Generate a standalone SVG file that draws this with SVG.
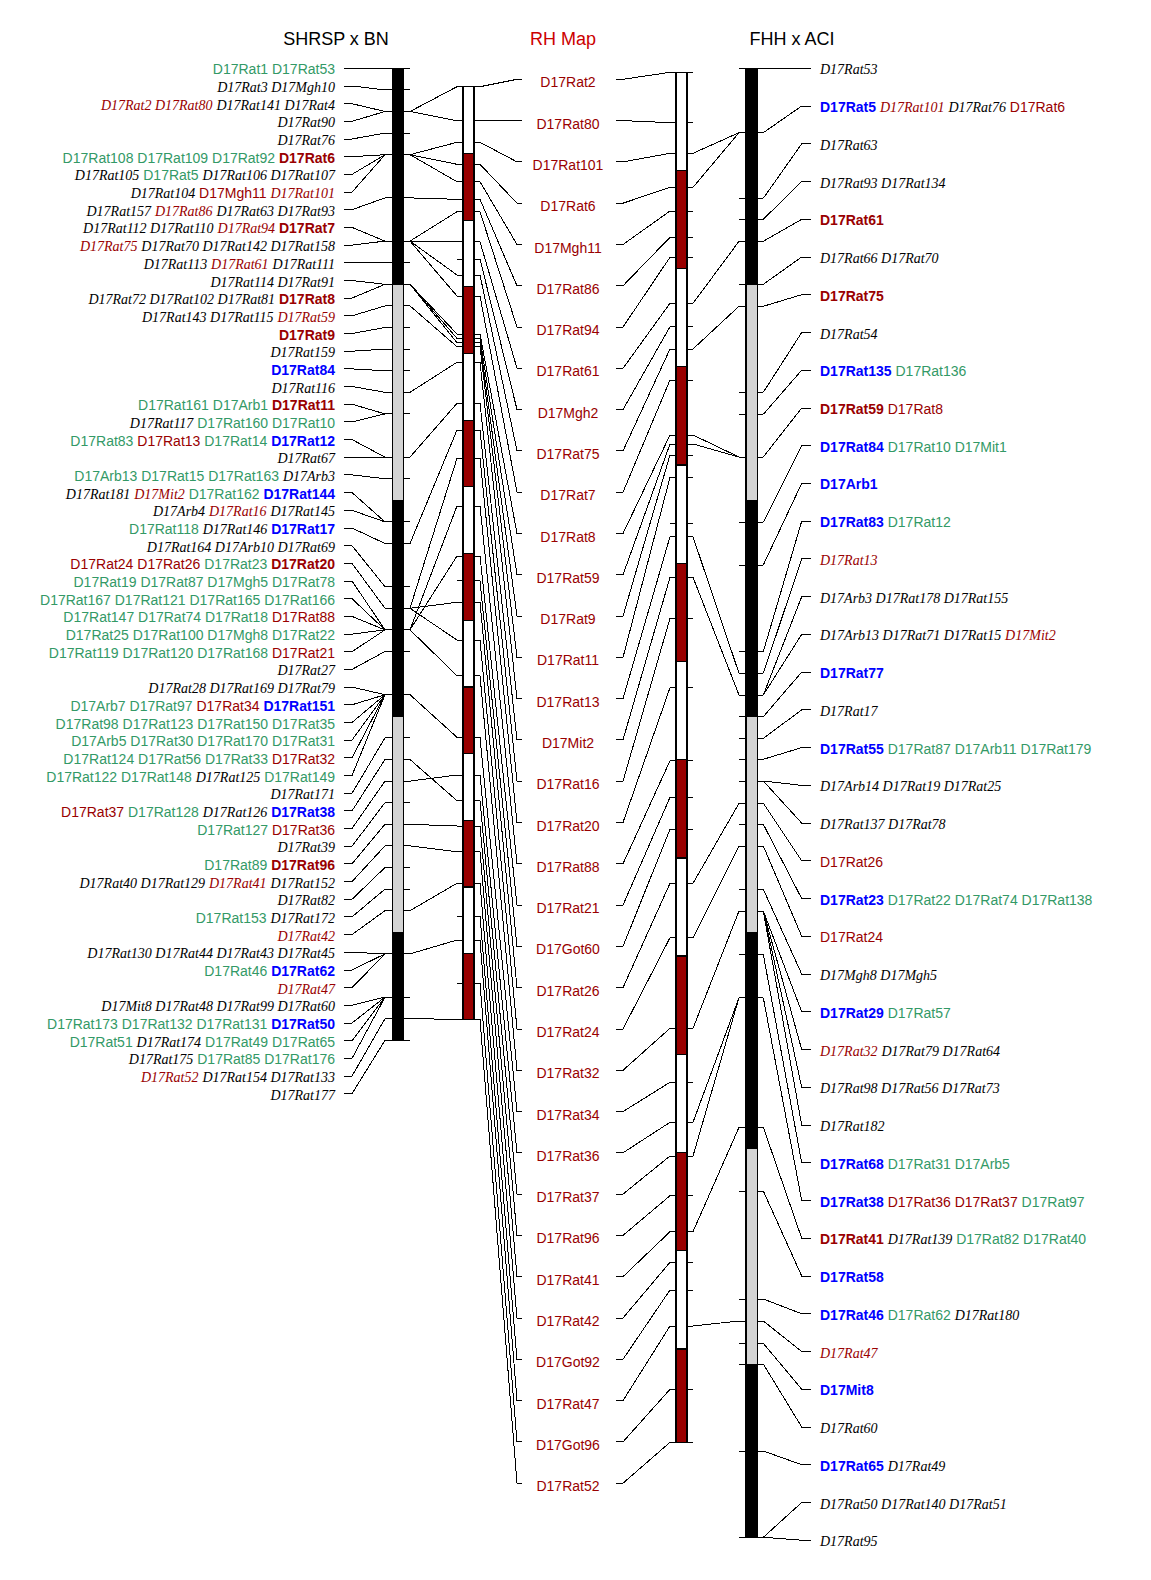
<svg xmlns="http://www.w3.org/2000/svg" width="1151" height="1580" viewBox="0 0 1151 1580">
<style>
text{font-family:"Liberation Sans",Arial,sans-serif;font-size:14px;fill:#000}
.t{font-size:18px}
.tr{font-size:18px;fill:#cc0000}
.g{fill:#339966}
.r{fill:#990000}
.i{font-family:"Liberation Serif","Times New Roman",serif;font-style:italic}
.ri{font-family:"Liberation Serif","Times New Roman",serif;font-style:italic;fill:#990000}
.rb{font-weight:bold;fill:#990000}
.bb{font-weight:bold;fill:#0000ff}
.ln{fill:none;stroke:#000;stroke-width:1;shape-rendering:crispEdges}
.bar{stroke:#000;stroke-width:1.2;shape-rendering:crispEdges}
.bk{fill:#000}.gy{fill:#d3d3d3}.wh{fill:#fff}.rd{fill:#990000}
</style>
<rect width="1151" height="1580" fill="#fff"/>
<g id="titles">
<text class="t" x="336" y="45" text-anchor="middle">SHRSP x BN</text>
<text class="tr" x="563" y="45" text-anchor="middle">RH Map</text>
<text class="t" x="792" y="45" text-anchor="middle">FHH x ACI</text>
</g>
<g id="connectors" class="ln">
<polyline points="344,68.3 410,68.3"/>
<polyline points="344,86 352,86 385,89.9"/>
<polyline points="344,103.7 352,103.7 385,111.5"/>
<polyline points="344,121.3 352,121.3 385,111.5"/>
<polyline points="344,139 352,139 385,133.1"/>
<polyline points="344,156.7 352,156.7 385,154.7"/>
<polyline points="344,174.4 352,174.4 385,154.7"/>
<polyline points="344,192.1 352,192.1 385,154.7"/>
<polyline points="344,209.7 352,209.7 385,197.9"/>
<polyline points="344,227.4 352,227.4 385,241.1"/>
<polyline points="344,245.1 352,245.1 385,241.1"/>
<polyline points="344,262.8 352,262.8 385,262.7"/>
<polyline points="344,280.5 352,280.5 385,284.3"/>
<polyline points="344,298.1 352,298.1 385,284.3"/>
<polyline points="344,315.8 352,315.8 385,305.9"/>
<polyline points="344,333.5 352,333.5 385,327.5"/>
<polyline points="344,351.2 352,351.2 385,349.1"/>
<polyline points="344,368.9 352,368.9 385,370.7"/>
<polyline points="344,386.5 352,386.5 385,392.3"/>
<polyline points="344,404.2 352,404.2 385,413.9"/>
<polyline points="344,421.9 352,421.9 385,413.9"/>
<polyline points="344,439.6 352,439.6 385,457.1"/>
<polyline points="344,457.3 352,457.3 385,457.1"/>
<polyline points="344,474.9 352,474.9 385,478.7"/>
<polyline points="344,492.6 352,492.6 385,521.9"/>
<polyline points="344,510.3 352,510.3 385,521.9"/>
<polyline points="344,528 352,528 385,543.5"/>
<polyline points="344,545.7 352,545.7 385,586.7"/>
<polyline points="344,563.3 352,563.3 385,608.3"/>
<polyline points="344,581 352,581 385,629.9"/>
<polyline points="344,598.7 352,598.7 385,629.9"/>
<polyline points="344,616.4 352,616.4 385,629.9"/>
<polyline points="344,634.1 352,634.1 385,629.9"/>
<polyline points="344,651.7 352,651.7 385,629.9"/>
<polyline points="344,669.4 352,669.4 385,651.5"/>
<polyline points="344,687.1 352,687.1 385,694.7"/>
<polyline points="344,704.8 352,704.8 385,694.7"/>
<polyline points="344,722.5 352,722.5 385,694.7"/>
<polyline points="344,740.1 352,740.1 385,694.7"/>
<polyline points="344,757.8 352,757.8 385,694.7"/>
<polyline points="344,775.5 352,775.5 385,694.7"/>
<polyline points="344,793.2 352,793.2 385,737.9"/>
<polyline points="344,810.9 352,810.9 385,759.5"/>
<polyline points="344,828.5 352,828.5 385,781.1"/>
<polyline points="344,846.2 352,846.2 385,802.7"/>
<polyline points="344,863.9 352,863.9 385,824.3"/>
<polyline points="344,881.6 352,881.6 385,845.9"/>
<polyline points="344,899.3 352,899.3 385,867.5"/>
<polyline points="344,916.9 352,916.9 385,889.1"/>
<polyline points="344,934.6 352,934.6 385,910.7"/>
<polyline points="344,952.3 352,952.3 385,953.9"/>
<polyline points="344,970 352,970 385,953.9"/>
<polyline points="344,987.7 352,987.7 385,953.9"/>
<polyline points="344,1005.3 352,1005.3 385,997.1"/>
<polyline points="344,1023 352,1023 385,997.1"/>
<polyline points="344,1040.7 352,1040.7 385,997.1"/>
<polyline points="344,1058.4 352,1058.4 385,997.1"/>
<polyline points="344,1076.1 352,1076.1 385,1018.7"/>
<polyline points="344,1093.7 352,1093.7 385,1040.3"/>
<path d="M385 89.9H392.5M403.5 89.9H410M385 111.5H392.5M403.5 111.5H410M385 133.1H392.5M403.5 133.1H410M385 154.7H392.5M403.5 154.7H410M385 197.9H392.5M403.5 197.9H410M385 241.1H392.5M403.5 241.1H410M385 262.7H392.5M403.5 262.7H410M385 284.3H392.5M403.5 284.3H410M385 305.9H392.5M403.5 305.9H410M385 327.5H392.5M403.5 327.5H410M385 349.1H392.5M403.5 349.1H410M385 370.7H392.5M403.5 370.7H410M385 392.3H392.5M403.5 392.3H410M385 413.9H392.5M403.5 413.9H410M385 457.1H392.5M403.5 457.1H410M385 478.7H392.5M403.5 478.7H410M385 521.9H392.5M403.5 521.9H410M385 543.5H392.5M403.5 543.5H410M385 586.7H392.5M403.5 586.7H410M385 608.3H392.5M403.5 608.3H410M385 629.9H392.5M403.5 629.9H410M385 651.5H392.5M403.5 651.5H410M385 694.7H392.5M403.5 694.7H410M385 737.9H392.5M403.5 737.9H410M385 759.5H392.5M403.5 759.5H410M385 781.1H392.5M403.5 781.1H410M385 802.7H392.5M403.5 802.7H410M385 824.3H392.5M403.5 824.3H410M385 845.9H392.5M403.5 845.9H410M385 867.5H392.5M403.5 867.5H410M385 889.1H392.5M403.5 889.1H410M385 910.7H392.5M403.5 910.7H410M385 953.9H392.5M403.5 953.9H410M385 997.1H392.5M403.5 997.1H410M385 1018.7H392.5M403.5 1018.7H410M385 1040.3H410"/>
<polyline points="410,111.5 457,86.7 463,86.7"/>
<polyline points="410,111.5 457,120.7 463,120.7"/>
<polyline points="410,154.7 457,142.3 463,142.3"/>
<polyline points="410,154.7 457,164.3 463,164.3"/>
<polyline points="410,154.7 457,181.7 463,181.7"/>
<polyline points="410,197.9 457,199.3 463,199.3"/>
<polyline points="410,241.1 457,211.7 463,211.7"/>
<polyline points="410,241.1 457,241.7 463,241.7"/>
<polyline points="410,241.1 457,275 463,275"/>
<polyline points="410,241.1 457,296 463,296"/>
<polyline points="410,284.3 457,334 463,334"/>
<polyline points="410,284.3 457,338.3 463,338.3"/>
<polyline points="410,284.3 457,342.7 463,342.7"/>
<polyline points="410,305.9 457,346.7 463,346.7"/>
<polyline points="410,392.3 457,362.3 463,362.3"/>
<polyline points="410,457.1 457,403.3 463,403.3"/>
<polyline points="410,543.5 457,430 463,430"/>
<polyline points="410,608.3 457,458.3 463,458.3"/>
<polyline points="410,629.9 457,506 463,506"/>
<polyline points="410,629.9 457,556 463,556"/>
<polyline points="410,608.3 457,602.3 463,602.3"/>
<polyline points="410,608.3 457,640 463,640"/>
<polyline points="410,629.9 457,675.7 463,675.7"/>
<polyline points="410,694.7 457,737.3 463,737.3"/>
<polyline points="410,781.1 457,775 463,775"/>
<polyline points="410,759.5 457,800.7 463,800.7"/>
<polyline points="410,824.3 457,826 463,826"/>
<polyline points="410,845.9 457,851.7 463,851.7"/>
<polyline points="410,910.7 457,883.3 463,883.3"/>
<polyline points="410,953.9 457,940 463,940"/>
<polyline points="410,1018.7 457,1019.3 463,1019.3"/>
<path d="M457 86.7H463M474 86.7H480M457 120.7H463M474 120.7H480M457 142.3H463M474 142.3H480M457 164.3H463M474 164.3H480M457 181.7H463M474 181.7H480M457 199.3H463M474 199.3H480M457 211.7H463M474 211.7H480M457 241.7H463M474 241.7H480M457 259H463M474 259H480M457 275H463M474 275H480M457 296H463M474 296H480M457 334H463M474 334H480M457 338.3H463M474 338.3H480M457 342.7H463M474 342.7H480M457 346.7H463M474 346.7H480M457 362.3H463M474 362.3H480M457 403.3H463M474 403.3H480M457 430H463M474 430H480M457 458.3H463M474 458.3H480M457 506H463M474 506H480M457 556H463M474 556H480M457 580.7H463M474 580.7H480M457 602.3H463M474 602.3H480M457 640H463M474 640H480M457 675.7H463M474 675.7H480M457 737.3H463M474 737.3H480M457 775H463M474 775H480M457 800.7H463M474 800.7H480M457 826H463M474 826H480M457 851.7H463M474 851.7H480M457 883.3H463M474 883.3H480M457 916H463M474 916H480M457 940H463M474 940H480M457 983.3H463M474 983.3H480M474 1019.3H480"/>
<polyline points="480,86.7 517,79.3 522,79.3"/>
<polyline points="480,120.7 517,120.6 522,120.6"/>
<polyline points="480,142.3 517,161.9 522,161.9"/>
<polyline points="480,164.3 517,203.2 522,203.2"/>
<polyline points="480,181.7 517,244.5 522,244.5"/>
<polyline points="480,199.3 517,285.8 522,285.8"/>
<polyline points="480,211.7 517,327 522,327"/>
<polyline points="480,241.7 517,368.3 522,368.3"/>
<polyline points="480,259 517,409.6 522,409.6"/>
<polyline points="480,275 517,450.9 522,450.9"/>
<polyline points="480,296 517,492.2 522,492.2"/>
<polyline points="480,334 517,533.5 522,533.5"/>
<polyline points="480,338.3 517,574.8 522,574.8"/>
<polyline points="480,342.7 517,616.1 522,616.1"/>
<polyline points="480,346.7 517,657.4 522,657.4"/>
<polyline points="480,362.3 517,698.7 522,698.7"/>
<polyline points="480,403.3 517,739.9 522,739.9"/>
<polyline points="480,430 517,781.2 522,781.2"/>
<polyline points="480,458.3 517,822.5 522,822.5"/>
<polyline points="480,506 517,863.8 522,863.8"/>
<polyline points="480,556 517,905.1 522,905.1"/>
<polyline points="480,580.7 517,946.4 522,946.4"/>
<polyline points="480,602.3 517,987.7 522,987.7"/>
<polyline points="480,640 517,1029 522,1029"/>
<polyline points="480,675.7 517,1070.3 522,1070.3"/>
<polyline points="480,737.3 517,1111.6 522,1111.6"/>
<polyline points="480,775 517,1152.8 522,1152.8"/>
<polyline points="480,800.7 517,1194.1 522,1194.1"/>
<polyline points="480,826 517,1235.4 522,1235.4"/>
<polyline points="480,851.7 517,1276.7 522,1276.7"/>
<polyline points="480,883.3 517,1318 522,1318"/>
<polyline points="480,916 517,1359.3 522,1359.3"/>
<polyline points="480,940 517,1400.6 522,1400.6"/>
<polyline points="480,983.3 517,1441.9 522,1441.9"/>
<polyline points="480,1019.3 517,1483.2 522,1483.2"/>
<polyline points="616,79.3 623,79.3 670,72.3 676,72.3"/>
<polyline points="616,120.6 623,120.6 670,122.7 676,122.7"/>
<polyline points="616,161.9 623,161.9 670,153.3 676,153.3"/>
<polyline points="616,203.2 623,203.2 670,187.3 676,187.3"/>
<polyline points="616,244.5 623,244.5 670,211 676,211"/>
<polyline points="616,285.8 623,285.8 670,237.3 676,237.3"/>
<polyline points="616,327 623,327 670,257.3 676,257.3"/>
<polyline points="616,368.3 623,368.3 670,303.3 676,303.3"/>
<polyline points="616,409.6 623,409.6 670,326.7 676,326.7"/>
<polyline points="616,450.9 623,450.9 670,349 676,349"/>
<polyline points="616,492.2 623,492.2 670,380 676,380"/>
<polyline points="616,533.5 623,533.5 670,435 676,435"/>
<polyline points="616,574.8 623,574.8 670,444 676,444"/>
<polyline points="616,616.1 623,616.1 670,455 676,455"/>
<polyline points="616,657.4 623,657.4 670,477.3 676,477.3"/>
<polyline points="616,698.7 623,698.7 670,536.7 676,536.7"/>
<polyline points="616,739.9 623,739.9 670,577.3 676,577.3"/>
<polyline points="616,781.2 623,781.2 670,618.3 676,618.3"/>
<polyline points="616,822.5 623,822.5 670,687.7 676,687.7"/>
<polyline points="616,863.8 623,863.8 670,760.7 676,760.7"/>
<polyline points="616,905.1 623,905.1 670,797.3 676,797.3"/>
<polyline points="616,946.4 623,946.4 670,829.3 676,829.3"/>
<polyline points="616,987.7 623,987.7 670,883.3 676,883.3"/>
<polyline points="616,1029 623,1029 670,937.7 676,937.7"/>
<polyline points="616,1070.3 623,1070.3 670,1028.3 676,1028.3"/>
<polyline points="616,1111.6 623,1111.6 670,1082.3 676,1082.3"/>
<polyline points="616,1152.8 623,1152.8 670,1122.3 676,1122.3"/>
<polyline points="616,1194.1 623,1194.1 670,1156 676,1156"/>
<polyline points="616,1235.4 623,1235.4 670,1195.7 676,1195.7"/>
<polyline points="616,1276.7 623,1276.7 670,1231.7 676,1231.7"/>
<polyline points="616,1318 623,1318 670,1262.3 676,1262.3"/>
<polyline points="616,1359.3 623,1359.3 670,1290 676,1290"/>
<polyline points="616,1400.6 623,1400.6 670,1326 676,1326"/>
<polyline points="616,1441.9 623,1441.9 670,1389.3 676,1389.3"/>
<polyline points="616,1483.2 623,1483.2 670,1442.3 676,1442.3"/>
<path d="M687 72.3H693M687 122.7H693M687 153.3H693M687 187.3H693M687 211H693M687 237.3H693M687 257.3H693M687 303.3H693M687 326.7H693M687 349H693M687 380H693M687 435H693M687 444H693M687 455H693M687 477.3H693M670 523.3H676M687 523.3H693M687 536.7H693M687 577.3H693M687 618.3H693M687 687.7H693M687 760.7H693M687 797.3H693M687 829.3H693M687 883.3H693M687 937.7H693M687 1028.3H693M687 1082.3H693M687 1122.3H693M687 1156H693M687 1195.7H693M687 1231.7H693M687 1262.3H693M687 1290H693M687 1326H693M687 1389.3H693M687 1442.3H693"/>
<polyline points="693,153.3 739,132.7 746,132.7"/>
<polyline points="693,187.3 739,132.7 746,132.7"/>
<polyline points="693,303.3 739,241.3 746,241.3"/>
<polyline points="693,349 739,306.3 746,306.3"/>
<polyline points="693,435 739,457 746,457"/>
<polyline points="693,444 739,457 746,457"/>
<polyline points="693,536.7 739,673.3 746,673.3"/>
<polyline points="693,577.3 739,695 746,695"/>
<polyline points="693,883.3 739,803.3 746,803.3"/>
<polyline points="693,937.7 739,846 746,846"/>
<polyline points="693,1028.3 739,911 746,911"/>
<polyline points="693,1122.3 739,997.7 746,997.7"/>
<polyline points="693,1156 739,997.7 746,997.7"/>
<polyline points="693,1231.7 739,1127.3 746,1127.3"/>
<polyline points="693,1326 739,1321 746,1321"/>
<path d="M739 132.7H746M757.5 132.7H763.3M739 198.3H746M757.5 198.3H763.3M739 219.3H746M757.5 219.3H763.3M739 241.3H746M757.5 241.3H763.3M739 284.3H746M757.5 284.3H763.3M739 306.3H746M757.5 306.3H763.3M739 392.3H746M757.5 392.3H763.3M739 414.3H746M757.5 414.3H763.3M739 457H746M757.5 457H763.3M739 522.3H746M757.5 522.3H763.3M739 565H746M757.5 565H763.3M739 651.7H746M757.5 651.7H763.3M739 673.3H746M757.5 673.3H763.3M739 695H746M757.5 695H763.3M739 716.7H746M757.5 716.7H763.3M739 738.3H746M757.5 738.3H763.3M739 759.3H746M757.5 759.3H763.3M739 781H746M757.5 781H763.3M739 803.3H746M757.5 803.3H763.3M739 824.3H746M757.5 824.3H763.3M739 846H746M757.5 846H763.3M739 889.3H746M757.5 889.3H763.3M739 911H746M757.5 911H763.3M739 954.3H746M757.5 954.3H763.3M739 997.7H746M757.5 997.7H763.3M739 1127.3H746M757.5 1127.3H763.3M739 1191H746M757.5 1191H763.3M739 1299H746M757.5 1299H763.3M739 1321H746M757.5 1321H763.3M739 1343.3H746M757.5 1343.3H763.3M739 1364H746M757.5 1364H763.3M739 1451H746M757.5 1451H763.3M739 1537.3H763.3"/>
<polyline points="739,68.3 810.7,68.3"/>
<polyline points="763.3,132.7 801.7,106 810.7,106"/>
<polyline points="763.3,198.3 801.7,143.8 810.7,143.8"/>
<polyline points="763.3,219.3 801.7,181.5 810.7,181.5"/>
<polyline points="763.3,241.3 801.7,219.3 810.7,219.3"/>
<polyline points="763.3,284.3 801.7,257 810.7,257"/>
<polyline points="763.3,306.3 801.7,294.7 810.7,294.7"/>
<polyline points="763.3,392.3 801.7,332.5 810.7,332.5"/>
<polyline points="763.3,414.3 801.7,370.2 810.7,370.2"/>
<polyline points="763.3,457 801.7,408 810.7,408"/>
<polyline points="763.3,522.3 801.7,445.7 810.7,445.7"/>
<polyline points="763.3,565 801.7,483.4 810.7,483.4"/>
<polyline points="763.3,651.7 801.7,521.2 810.7,521.2"/>
<polyline points="763.3,673.3 801.7,558.9 810.7,558.9"/>
<polyline points="763.3,695 801.7,596.7 810.7,596.7"/>
<polyline points="763.3,695 801.7,634.4 810.7,634.4"/>
<polyline points="763.3,716.7 801.7,672.1 810.7,672.1"/>
<polyline points="763.3,738.3 801.7,709.9 810.7,709.9"/>
<polyline points="763.3,759.3 801.7,747.6 810.7,747.6"/>
<polyline points="763.3,781 801.7,785.4 810.7,785.4"/>
<polyline points="763.3,781 801.7,823.1 810.7,823.1"/>
<polyline points="763.3,803.3 801.7,860.8 810.7,860.8"/>
<polyline points="763.3,824.3 801.7,898.6 810.7,898.6"/>
<polyline points="763.3,846 801.7,936.3 810.7,936.3"/>
<polyline points="763.3,889.3 801.7,974.1 810.7,974.1"/>
<polyline points="763.3,911 801.7,1011.8 810.7,1011.8"/>
<polyline points="763.3,911 801.7,1049.6 810.7,1049.6"/>
<polyline points="763.3,911 801.7,1087.3 810.7,1087.3"/>
<polyline points="763.3,911 801.7,1125.1 810.7,1125.1"/>
<polyline points="763.3,954.3 801.7,1162.8 810.7,1162.8"/>
<polyline points="763.3,997.7 801.7,1200.5 810.7,1200.5"/>
<polyline points="763.3,1127.3 801.7,1238.3 810.7,1238.3"/>
<polyline points="763.3,1191 801.7,1276 810.7,1276"/>
<polyline points="763.3,1299 801.7,1313.8 810.7,1313.8"/>
<polyline points="763.3,1321 801.7,1351.5 810.7,1351.5"/>
<polyline points="763.3,1343.3 801.7,1389.2 810.7,1389.2"/>
<polyline points="763.3,1364 801.7,1427 810.7,1427"/>
<polyline points="763.3,1451 801.7,1464.7 810.7,1464.7"/>
<polyline points="763.3,1537.3 801.7,1502.5 810.7,1502.5"/>
<polyline points="763.3,1537.3 801.7,1540.2 810.7,1540.2"/>
</g>
<g id="map-shrsp" class="bar">
<rect class="bk" x="392.5" y="68.3" width="11" height="216"/>
<rect class="gy" x="392.5" y="284.3" width="11" height="216"/>
<rect class="bk" x="392.5" y="500.3" width="11" height="216"/>
<rect class="gy" x="392.5" y="716.3" width="11" height="216"/>
<rect class="bk" x="392.5" y="932.3" width="11" height="108"/>
</g>
<g id="map-rh-1" class="bar">
<rect class="wh" x="463" y="86.7" width="11" height="66.7"/>
<rect class="rd" x="463" y="153.4" width="11" height="66.7"/>
<rect class="wh" x="463" y="220.1" width="11" height="66.7"/>
<rect class="rd" x="463" y="286.8" width="11" height="66.7"/>
<rect class="wh" x="463" y="353.5" width="11" height="66.7"/>
<rect class="rd" x="463" y="420.2" width="11" height="66.7"/>
<rect class="wh" x="463" y="486.9" width="11" height="66.7"/>
<rect class="rd" x="463" y="553.6" width="11" height="66.7"/>
<rect class="wh" x="463" y="620.3" width="11" height="66.7"/>
<rect class="rd" x="463" y="687" width="11" height="66.7"/>
<rect class="wh" x="463" y="753.7" width="11" height="66.7"/>
<rect class="rd" x="463" y="820.4" width="11" height="66.7"/>
<rect class="wh" x="463" y="887.1" width="11" height="66.7"/>
<rect class="rd" x="463" y="953.8" width="11" height="65.5"/>
</g>
<g id="map-rh-2" class="bar">
<rect class="wh" x="676" y="72.3" width="11" height="98.2"/>
<rect class="rd" x="676" y="170.5" width="11" height="98.2"/>
<rect class="wh" x="676" y="268.7" width="11" height="98.2"/>
<rect class="rd" x="676" y="366.9" width="11" height="98.2"/>
<rect class="wh" x="676" y="465.1" width="11" height="98.2"/>
<rect class="rd" x="676" y="563.3" width="11" height="98.2"/>
<rect class="wh" x="676" y="661.5" width="11" height="98.2"/>
<rect class="rd" x="676" y="759.7" width="11" height="98.2"/>
<rect class="wh" x="676" y="857.9" width="11" height="98.2"/>
<rect class="rd" x="676" y="956.1" width="11" height="98.2"/>
<rect class="wh" x="676" y="1054.3" width="11" height="98.2"/>
<rect class="rd" x="676" y="1152.5" width="11" height="98.2"/>
<rect class="wh" x="676" y="1250.7" width="11" height="98.2"/>
<rect class="rd" x="676" y="1348.9" width="11" height="93.4"/>
</g>
<g id="map-fhh" class="bar">
<rect class="bk" x="746" y="68.3" width="11.5" height="216"/>
<rect class="gy" x="746" y="284.3" width="11.5" height="216"/>
<rect class="bk" x="746" y="500.3" width="11.5" height="216"/>
<rect class="gy" x="746" y="716.3" width="11.5" height="216"/>
<rect class="bk" x="746" y="932.3" width="11.5" height="216"/>
<rect class="gy" x="746" y="1148.3" width="11.5" height="216"/>
<rect class="bk" x="746" y="1364.3" width="11.5" height="173"/>
</g>
<g id="labels-shrsp" text-anchor="end">
<text x="335" y="74.3"><tspan class="g">D17Rat1</tspan> <tspan class="g">D17Rat53</tspan></text>
<text x="335" y="92"><tspan class="i">D17Rat3 D17Mgh10</tspan></text>
<text x="335" y="109.7"><tspan class="ri">D17Rat2 D17Rat80</tspan> <tspan class="i">D17Rat141 D17Rat4</tspan></text>
<text x="335" y="127.3"><tspan class="i">D17Rat90</tspan></text>
<text x="335" y="145"><tspan class="i">D17Rat76</tspan></text>
<text x="335" y="162.7"><tspan class="g">D17Rat108 D17Rat109 D17Rat92</tspan> <tspan class="rb">D17Rat6</tspan></text>
<text x="335" y="180.4"><tspan class="i">D17Rat105</tspan> <tspan class="g">D17Rat5</tspan> <tspan class="i">D17Rat106 D17Rat107</tspan></text>
<text x="335" y="198.1"><tspan class="i">D17Rat104</tspan> <tspan class="r">D17Mgh11</tspan> <tspan class="ri">D17Rat101</tspan></text>
<text x="335" y="215.7"><tspan class="i">D17Rat157</tspan> <tspan class="ri">D17Rat86</tspan> <tspan class="i">D17Rat63 D17Rat93</tspan></text>
<text x="335" y="233.4"><tspan class="i">D17Rat112 D17Rat110</tspan> <tspan class="ri">D17Rat94</tspan> <tspan class="rb">D17Rat7</tspan></text>
<text x="335" y="251.1"><tspan class="ri">D17Rat75</tspan> <tspan class="i">D17Rat70 D17Rat142 D17Rat158</tspan></text>
<text x="335" y="268.8"><tspan class="i">D17Rat113</tspan> <tspan class="ri">D17Rat61</tspan> <tspan class="i">D17Rat111</tspan></text>
<text x="335" y="286.5"><tspan class="i">D17Rat114 D17Rat91</tspan></text>
<text x="335" y="304.1"><tspan class="i">D17Rat72 D17Rat102 D17Rat81</tspan> <tspan class="rb">D17Rat8</tspan></text>
<text x="335" y="321.8"><tspan class="i">D17Rat143 D17Rat115</tspan> <tspan class="ri">D17Rat59</tspan></text>
<text x="335" y="339.5"><tspan class="rb">D17Rat9</tspan></text>
<text x="335" y="357.2"><tspan class="i">D17Rat159</tspan></text>
<text x="335" y="374.9"><tspan class="bb">D17Rat84</tspan></text>
<text x="335" y="392.5"><tspan class="i">D17Rat116</tspan></text>
<text x="335" y="410.2"><tspan class="g">D17Rat161 D17Arb1</tspan> <tspan class="rb">D17Rat11</tspan></text>
<text x="335" y="427.9"><tspan class="i">D17Rat117</tspan> <tspan class="g">D17Rat160 D17Rat10</tspan></text>
<text x="335" y="445.6"><tspan class="g">D17Rat83</tspan> <tspan class="r">D17Rat13</tspan> <tspan class="g">D17Rat14</tspan> <tspan class="bb">D17Rat12</tspan></text>
<text x="335" y="463.3"><tspan class="i">D17Rat67</tspan></text>
<text x="335" y="480.9"><tspan class="g">D17Arb13 D17Rat15 D17Rat163</tspan> <tspan class="i">D17Arb3</tspan></text>
<text x="335" y="498.6"><tspan class="i">D17Rat181</tspan> <tspan class="ri">D17Mit2</tspan> <tspan class="g">D17Rat162</tspan> <tspan class="bb">D17Rat144</tspan></text>
<text x="335" y="516.3"><tspan class="i">D17Arb4</tspan> <tspan class="ri">D17Rat16</tspan> <tspan class="i">D17Rat145</tspan></text>
<text x="335" y="534"><tspan class="g">D17Rat118</tspan> <tspan class="i">D17Rat146</tspan> <tspan class="bb">D17Rat17</tspan></text>
<text x="335" y="551.7"><tspan class="i">D17Rat164 D17Arb10 D17Rat69</tspan></text>
<text x="335" y="569.3"><tspan class="r">D17Rat24 D17Rat26</tspan> <tspan class="g">D17Rat23</tspan> <tspan class="rb">D17Rat20</tspan></text>
<text x="335" y="587"><tspan class="g">D17Rat19 D17Rat87 D17Mgh5 D17Rat78</tspan></text>
<text x="335" y="604.7"><tspan class="g">D17Rat167 D17Rat121 D17Rat165 D17Rat166</tspan></text>
<text x="335" y="622.4"><tspan class="g">D17Rat147 D17Rat74 D17Rat18</tspan> <tspan class="r">D17Rat88</tspan></text>
<text x="335" y="640.1"><tspan class="g">D17Rat25 D17Rat100 D17Mgh8 D17Rat22</tspan></text>
<text x="335" y="657.7"><tspan class="g">D17Rat119 D17Rat120 D17Rat168</tspan> <tspan class="r">D17Rat21</tspan></text>
<text x="335" y="675.4"><tspan class="i">D17Rat27</tspan></text>
<text x="335" y="693.1"><tspan class="i">D17Rat28 D17Rat169 D17Rat79</tspan></text>
<text x="335" y="710.8"><tspan class="g">D17Arb7 D17Rat97</tspan> <tspan class="r">D17Rat34</tspan> <tspan class="bb">D17Rat151</tspan></text>
<text x="335" y="728.5"><tspan class="g">D17Rat98 D17Rat123 D17Rat150 D17Rat35</tspan></text>
<text x="335" y="746.1"><tspan class="g">D17Arb5 D17Rat30 D17Rat170 D17Rat31</tspan></text>
<text x="335" y="763.8"><tspan class="g">D17Rat124 D17Rat56 D17Rat33</tspan> <tspan class="r">D17Rat32</tspan></text>
<text x="335" y="781.5"><tspan class="g">D17Rat122 D17Rat148</tspan> <tspan class="i">D17Rat125</tspan> <tspan class="g">D17Rat149</tspan></text>
<text x="335" y="799.2"><tspan class="i">D17Rat171</tspan></text>
<text x="335" y="816.9"><tspan class="r">D17Rat37</tspan> <tspan class="g">D17Rat128</tspan> <tspan class="i">D17Rat126</tspan> <tspan class="bb">D17Rat38</tspan></text>
<text x="335" y="834.5"><tspan class="g">D17Rat127</tspan> <tspan class="r">D17Rat36</tspan></text>
<text x="335" y="852.2"><tspan class="i">D17Rat39</tspan></text>
<text x="335" y="869.9"><tspan class="g">D17Rat89</tspan> <tspan class="rb">D17Rat96</tspan></text>
<text x="335" y="887.6"><tspan class="i">D17Rat40 D17Rat129</tspan> <tspan class="ri">D17Rat41</tspan> <tspan class="i">D17Rat152</tspan></text>
<text x="335" y="905.3"><tspan class="i">D17Rat82</tspan></text>
<text x="335" y="922.9"><tspan class="g">D17Rat153</tspan> <tspan class="i">D17Rat172</tspan></text>
<text x="335" y="940.6"><tspan class="ri">D17Rat42</tspan></text>
<text x="335" y="958.3"><tspan class="i">D17Rat130 D17Rat44 D17Rat43 D17Rat45</tspan></text>
<text x="335" y="976"><tspan class="g">D17Rat46</tspan> <tspan class="bb">D17Rat62</tspan></text>
<text x="335" y="993.7"><tspan class="ri">D17Rat47</tspan></text>
<text x="335" y="1011.3"><tspan class="i">D17Mit8 D17Rat48 D17Rat99 D17Rat60</tspan></text>
<text x="335" y="1029"><tspan class="g">D17Rat173 D17Rat132 D17Rat131</tspan> <tspan class="bb">D17Rat50</tspan></text>
<text x="335" y="1046.7"><tspan class="g">D17Rat51</tspan> <tspan class="i">D17Rat174</tspan> <tspan class="g">D17Rat49 D17Rat65</tspan></text>
<text x="335" y="1064.4"><tspan class="i">D17Rat175</tspan> <tspan class="g">D17Rat85 D17Rat176</tspan></text>
<text x="335" y="1082.1"><tspan class="ri">D17Rat52</tspan> <tspan class="i">D17Rat154 D17Rat133</tspan></text>
<text x="335" y="1099.7"><tspan class="i">D17Rat177</tspan></text>
</g>
<g id="labels-rh" text-anchor="middle" class="r">
<text class="r" x="568" y="87.3">D17Rat2</text>
<text class="r" x="568" y="128.6">D17Rat80</text>
<text class="r" x="568" y="169.9">D17Rat101</text>
<text class="r" x="568" y="211.2">D17Rat6</text>
<text class="r" x="568" y="252.5">D17Mgh11</text>
<text class="r" x="568" y="293.8">D17Rat86</text>
<text class="r" x="568" y="335">D17Rat94</text>
<text class="r" x="568" y="376.3">D17Rat61</text>
<text class="r" x="568" y="417.6">D17Mgh2</text>
<text class="r" x="568" y="458.9">D17Rat75</text>
<text class="r" x="568" y="500.2">D17Rat7</text>
<text class="r" x="568" y="541.5">D17Rat8</text>
<text class="r" x="568" y="582.8">D17Rat59</text>
<text class="r" x="568" y="624.1">D17Rat9</text>
<text class="r" x="568" y="665.4">D17Rat11</text>
<text class="r" x="568" y="706.7">D17Rat13</text>
<text class="r" x="568" y="747.9">D17Mit2</text>
<text class="r" x="568" y="789.2">D17Rat16</text>
<text class="r" x="568" y="830.5">D17Rat20</text>
<text class="r" x="568" y="871.8">D17Rat88</text>
<text class="r" x="568" y="913.1">D17Rat21</text>
<text class="r" x="568" y="954.4">D17Got60</text>
<text class="r" x="568" y="995.7">D17Rat26</text>
<text class="r" x="568" y="1037">D17Rat24</text>
<text class="r" x="568" y="1078.3">D17Rat32</text>
<text class="r" x="568" y="1119.6">D17Rat34</text>
<text class="r" x="568" y="1160.8">D17Rat36</text>
<text class="r" x="568" y="1202.1">D17Rat37</text>
<text class="r" x="568" y="1243.4">D17Rat96</text>
<text class="r" x="568" y="1284.7">D17Rat41</text>
<text class="r" x="568" y="1326">D17Rat42</text>
<text class="r" x="568" y="1367.3">D17Got92</text>
<text class="r" x="568" y="1408.6">D17Rat47</text>
<text class="r" x="568" y="1449.9">D17Got96</text>
<text class="r" x="568" y="1491.2">D17Rat52</text>
</g>
<g id="labels-fhh">
<text x="820" y="74.3"><tspan class="i">D17Rat53</tspan></text>
<text x="820" y="112"><tspan class="bb">D17Rat5</tspan> <tspan class="ri">D17Rat101</tspan> <tspan class="i">D17Rat76</tspan> <tspan class="r">D17Rat6</tspan></text>
<text x="820" y="149.8"><tspan class="i">D17Rat63</tspan></text>
<text x="820" y="187.5"><tspan class="i">D17Rat93 D17Rat134</tspan></text>
<text x="820" y="225.3"><tspan class="rb">D17Rat61</tspan></text>
<text x="820" y="263"><tspan class="i">D17Rat66 D17Rat70</tspan></text>
<text x="820" y="300.7"><tspan class="rb">D17Rat75</tspan></text>
<text x="820" y="338.5"><tspan class="i">D17Rat54</tspan></text>
<text x="820" y="376.2"><tspan class="bb">D17Rat135</tspan> <tspan class="g">D17Rat136</tspan></text>
<text x="820" y="414"><tspan class="rb">D17Rat59</tspan> <tspan class="r">D17Rat8</tspan></text>
<text x="820" y="451.7"><tspan class="bb">D17Rat84</tspan> <tspan class="g">D17Rat10 D17Mit1</tspan></text>
<text x="820" y="489.4"><tspan class="bb">D17Arb1</tspan></text>
<text x="820" y="527.2"><tspan class="bb">D17Rat83</tspan> <tspan class="g">D17Rat12</tspan></text>
<text x="820" y="564.9"><tspan class="ri">D17Rat13</tspan></text>
<text x="820" y="602.7"><tspan class="i">D17Arb3 D17Rat178 D17Rat155</tspan></text>
<text x="820" y="640.4"><tspan class="i">D17Arb13 D17Rat71 D17Rat15</tspan> <tspan class="ri">D17Mit2</tspan></text>
<text x="820" y="678.1"><tspan class="bb">D17Rat77</tspan></text>
<text x="820" y="715.9"><tspan class="i">D17Rat17</tspan></text>
<text x="820" y="753.6"><tspan class="bb">D17Rat55</tspan> <tspan class="g">D17Rat87 D17Arb11 D17Rat179</tspan></text>
<text x="820" y="791.4"><tspan class="i">D17Arb14 D17Rat19 D17Rat25</tspan></text>
<text x="820" y="829.1"><tspan class="i">D17Rat137 D17Rat78</tspan></text>
<text x="820" y="866.8"><tspan class="r">D17Rat26</tspan></text>
<text x="820" y="904.6"><tspan class="bb">D17Rat23</tspan> <tspan class="g">D17Rat22 D17Rat74 D17Rat138</tspan></text>
<text x="820" y="942.3"><tspan class="r">D17Rat24</tspan></text>
<text x="820" y="980.1"><tspan class="i">D17Mgh8 D17Mgh5</tspan></text>
<text x="820" y="1017.8"><tspan class="bb">D17Rat29</tspan> <tspan class="g">D17Rat57</tspan></text>
<text x="820" y="1055.6"><tspan class="ri">D17Rat32</tspan> <tspan class="i">D17Rat79 D17Rat64</tspan></text>
<text x="820" y="1093.3"><tspan class="i">D17Rat98 D17Rat56 D17Rat73</tspan></text>
<text x="820" y="1131.1"><tspan class="i">D17Rat182</tspan></text>
<text x="820" y="1168.8"><tspan class="bb">D17Rat68</tspan> <tspan class="g">D17Rat31 D17Arb5</tspan></text>
<text x="820" y="1206.5"><tspan class="bb">D17Rat38</tspan> <tspan class="r">D17Rat36 D17Rat37</tspan> <tspan class="g">D17Rat97</tspan></text>
<text x="820" y="1244.3"><tspan class="rb">D17Rat41</tspan> <tspan class="i">D17Rat139</tspan> <tspan class="g">D17Rat82 D17Rat40</tspan></text>
<text x="820" y="1282"><tspan class="bb">D17Rat58</tspan></text>
<text x="820" y="1319.8"><tspan class="bb">D17Rat46</tspan> <tspan class="g">D17Rat62</tspan> <tspan class="i">D17Rat180</tspan></text>
<text x="820" y="1357.5"><tspan class="ri">D17Rat47</tspan></text>
<text x="820" y="1395.2"><tspan class="bb">D17Mit8</tspan></text>
<text x="820" y="1433"><tspan class="i">D17Rat60</tspan></text>
<text x="820" y="1470.7"><tspan class="bb">D17Rat65</tspan> <tspan class="i">D17Rat49</tspan></text>
<text x="820" y="1508.5"><tspan class="i">D17Rat50 D17Rat140 D17Rat51</tspan></text>
<text x="820" y="1546.2"><tspan class="i">D17Rat95</tspan></text>
</g>
</svg>
